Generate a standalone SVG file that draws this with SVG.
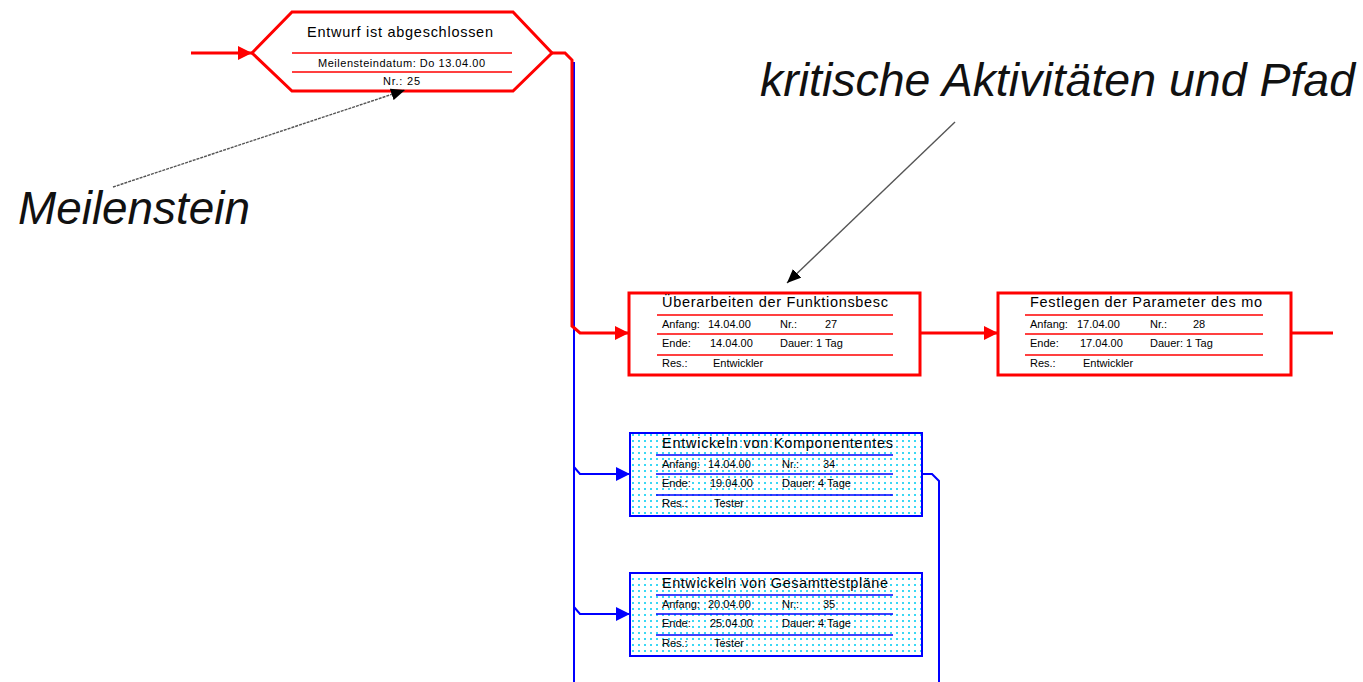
<svg xmlns="http://www.w3.org/2000/svg" width="1363" height="682" viewBox="0 0 1363 682">
  <defs>
    <style>
      text { font-family: "Liberation Sans", Arial, sans-serif; fill: #000; }
      .title { font-size: 14.5px; }
      .small { font-size: 11px; }
      .note { font-size: 46px; font-style: italic; fill: #111; }
      .crit { fill: #fff; stroke: #ff0000; stroke-width: 3; }
      .norm { fill: url(#dots); stroke: #0000ff; stroke-width: 2; }
      .rdiv { stroke: #ff0000; stroke-width: 1.6; }
      .bdiv { stroke: #0000ff; stroke-width: 1.6; }
      .rlink { fill: none; stroke: #ff0000; stroke-width: 3; }
      .blink { fill: none; stroke: #0000ff; stroke-width: 2; }
      .pointer { fill: none; stroke: #555; stroke-width: 1.4; }
    </style>
    <pattern id="dots" width="6" height="6" patternUnits="userSpaceOnUse">
      <rect width="6" height="6" fill="#ffffff"/>
      <rect x="2" y="2" width="2" height="2" fill="#3ad8f5" shape-rendering="crispEdges"/>
    </pattern>
    <marker id="arrRed" viewBox="0 0 14 14" refX="14" refY="7" markerWidth="14" markerHeight="14" markerUnits="userSpaceOnUse" orient="auto">
      <path d="M0,0 L14,7 L0,14 z" fill="#ff0000"/>
    </marker>
    <marker id="arrBlue" viewBox="0 0 14 14" refX="14" refY="7" markerWidth="14" markerHeight="14" markerUnits="userSpaceOnUse" orient="auto">
      <path d="M0,0 L14,7 L0,14 z" fill="#0000ff"/>
    </marker>
    <marker id="arrBlack" viewBox="0 0 14 12" refX="14" refY="6" markerWidth="14" markerHeight="12" markerUnits="userSpaceOnUse" orient="auto">
      <path d="M0,0 L14,6 L0,12 z" fill="#000"/>
    </marker>
  </defs>

  <rect width="1363" height="682" fill="#ffffff"/>

  <!-- connectors -->
  <g id="connectors">
    <!-- blue summary line running down the left side -->
    <path class="blink" d="M574,62 L574,682"/>
    <path class="blink" d="M574,467 L580,474 L630,474" marker-end="url(#arrBlue)"/>
    <path class="blink" d="M574,607 L580,614 L630,614" marker-end="url(#arrBlue)"/>
    <path class="blink" d="M922,474 L932,474 L939,481 L939,682"/>
    <!-- critical path -->
    <path class="rlink" d="M191,53 L252,53" marker-end="url(#arrRed)"/>
    <path class="rlink" d="M552,53 L565,53 L572,60 L572,326 L580,333 L629,333" marker-end="url(#arrRed)"/>
    <path class="rlink" d="M920,333 L998,333" marker-end="url(#arrRed)"/>
    <path class="rlink" d="M1291,333 L1333,333"/>
  </g>

  <!-- milestone -->
  <g id="node-25">
    <polygon class="crit" points="252,53 292,12 513,12 552,53 513,91 292,91"/>
    <line class="rdiv" x1="292" y1="53" x2="512" y2="53"/>
    <line class="rdiv" x1="292" y1="72" x2="512" y2="72"/>
    <text class="title" x="307" y="37" textLength="186" lengthAdjust="spacing">Entwurf ist abgeschlossen</text>
    <text class="small" x="318" y="67" textLength="167" lengthAdjust="spacing">Meilensteindatum: Do 13.04.00</text>
    <text class="small" x="383" y="85" textLength="37" lengthAdjust="spacing">Nr.: 25</text>
  </g>

  <!-- task 27 -->
  <g id="node-27">
    <rect class="crit" x="629" y="293" width="291" height="82"/>
    <line class="rdiv" x1="657" y1="315" x2="893" y2="315"/>
    <line class="rdiv" x1="657" y1="334" x2="893" y2="334"/>
    <line class="rdiv" x1="657" y1="355" x2="893" y2="355"/>
    <text class="title" x="662" y="307" textLength="226" lengthAdjust="spacing">Überarbeiten der Funktionsbesc</text>
    <text class="small" x="662" y="328">Anfang:</text>
    <text class="small" x="708" y="328">14.04.00</text>
    <text class="small" x="780" y="328">Nr.:</text>
    <text class="small" x="825" y="328">27</text>
    <text class="small" x="662" y="347">Ende:</text>
    <text class="small" x="710" y="347">14.04.00</text>
    <text class="small" x="780" y="347">Dauer: 1 Tag</text>
    <text class="small" x="662" y="367">Res.:</text>
    <text class="small" x="713" y="367">Entwickler</text>
  </g>

  <!-- task 28 -->
  <g id="node-28">
    <rect class="crit" x="998" y="293" width="293" height="82"/>
    <line class="rdiv" x1="1025" y1="315" x2="1263" y2="315"/>
    <line class="rdiv" x1="1025" y1="334" x2="1263" y2="334"/>
    <line class="rdiv" x1="1025" y1="355" x2="1263" y2="355"/>
    <text class="title" x="1030" y="307" textLength="232" lengthAdjust="spacing">Festlegen der Parameter des mo</text>
    <text class="small" x="1030" y="328">Anfang:</text>
    <text class="small" x="1077" y="328">17.04.00</text>
    <text class="small" x="1150" y="328">Nr.:</text>
    <text class="small" x="1193" y="328">28</text>
    <text class="small" x="1030" y="347">Ende:</text>
    <text class="small" x="1080" y="347">17.04.00</text>
    <text class="small" x="1150" y="347">Dauer: 1 Tag</text>
    <text class="small" x="1030" y="367">Res.:</text>
    <text class="small" x="1083" y="367">Entwickler</text>
  </g>

  <!-- task 34 -->
  <g id="node-34">
    <rect class="norm" x="630" y="433" width="292" height="83"/>
    <line class="bdiv" x1="656" y1="455" x2="893" y2="455"/>
    <line class="bdiv" x1="656" y1="474" x2="893" y2="474"/>
    <line class="bdiv" x1="656" y1="495" x2="893" y2="495"/>
    <text class="title" x="662" y="448" textLength="231" lengthAdjust="spacing">Entwickeln von Komponententes</text>
    <text class="small" x="662" y="468">Anfang:</text>
    <text class="small" x="708" y="468">14.04.00</text>
    <text class="small" x="782" y="468">Nr.:</text>
    <text class="small" x="823" y="468">34</text>
    <text class="small" x="662" y="487">Ende:</text>
    <text class="small" x="710" y="487">19.04.00</text>
    <text class="small" x="782" y="487">Dauer: 4 Tage</text>
    <text class="small" x="662" y="507">Res.:</text>
    <text class="small" x="714" y="507">Tester</text>
  </g>

  <!-- task 35 -->
  <g id="node-35">
    <rect class="norm" x="630" y="573" width="292" height="83"/>
    <line class="bdiv" x1="656" y1="595" x2="893" y2="595"/>
    <line class="bdiv" x1="656" y1="614" x2="893" y2="614"/>
    <line class="bdiv" x1="656" y1="635" x2="893" y2="635"/>
    <text class="title" x="662" y="588" textLength="226" lengthAdjust="spacing">Entwickeln von Gesamttestpläne</text>
    <text class="small" x="662" y="608">Anfang:</text>
    <text class="small" x="708" y="608">20.04.00</text>
    <text class="small" x="782" y="608">Nr.:</text>
    <text class="small" x="823" y="608">35</text>
    <text class="small" x="662" y="627">Ende:</text>
    <text class="small" x="710" y="627">25.04.00</text>
    <text class="small" x="782" y="627">Dauer: 4 Tage</text>
    <text class="small" x="662" y="647">Res.:</text>
    <text class="small" x="714" y="647">Tester</text>
  </g>

  <!-- callouts -->
  <g id="callout-meilenstein">
    <text class="note" x="18" y="224" textLength="232" lengthAdjust="spacingAndGlyphs">Meilenstein</text>
    <line class="pointer" x1="113" y1="187" x2="405" y2="90" stroke-dasharray="3,1" marker-end="url(#arrBlack)"/>
  </g>
  <g id="callout-kritisch">
    <text class="note" x="760" y="96" textLength="595" lengthAdjust="spacingAndGlyphs">kritische Aktivitäten und Pfad</text>
    <line class="pointer" x1="955" y1="122" x2="787" y2="283" marker-end="url(#arrBlack)"/>
  </g>
</svg>
